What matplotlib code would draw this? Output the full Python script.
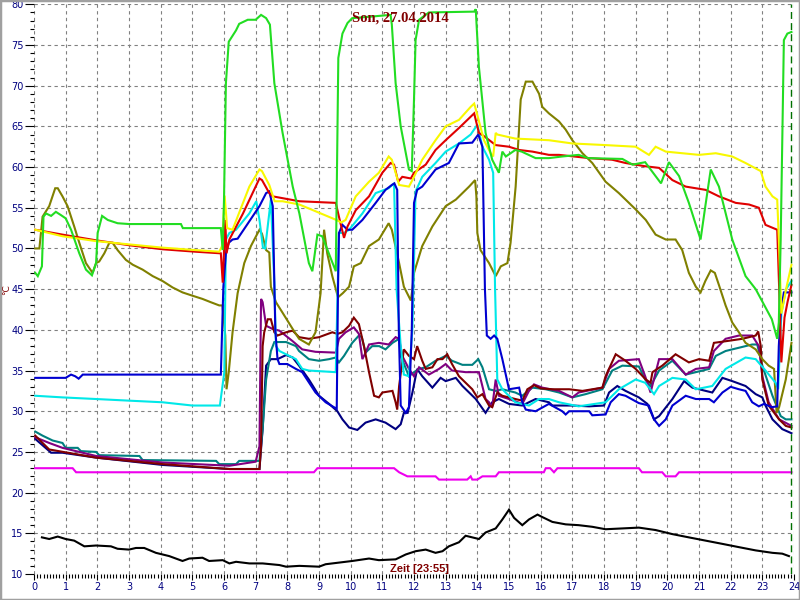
#!/usr/bin/env python3

import matplotlib

matplotlib.use("Agg")
import matplotlib.pyplot as plt
import numpy as np
from matplotlib.patches import Rectangle
from matplotlib.ticker import MultipleLocator

# (hour, degC) readings per sensor
green = [
    (0.04, 47.0), (0.12, 46.6), (0.25, 47.8), (0.3, 53.9), (0.38, 54.3), (0.54, 54.0),
    (0.69, 54.5), (0.85, 54.1), (1.0, 53.7), (1.17, 52.3), (1.43, 49.4), (1.64, 47.4),
    (1.83, 46.7), (1.96, 48.2), (2.01, 51.9), (2.15, 54.0), (2.33, 53.5), (2.64, 53.1),
    (3.0, 53.0), (4.64, 53.0), (4.7, 52.5), (5.9, 52.5), (5.96, 49.8), (6.0, 56.0),
    (6.06, 70.3), (6.15, 75.4), (6.38, 76.8), (6.48, 77.6), (6.75, 78.1), (7.0, 78.1),
    (7.17, 78.7), (7.33, 78.3), (7.45, 77.5), (7.59, 70.3), (7.85, 64.2), (8.17, 57.6),
    (8.38, 54.3), (8.68, 48.2), (8.79, 47.2), (8.95, 51.7), (9.1, 51.5), (9.53, 47.2),
    (9.61, 73.4), (9.74, 76.4), (9.9, 77.7), (10.05, 78.3), (10.68, 78.5), (11.26, 78.7),
    (11.3, 77.5), (11.42, 70.3), (11.58, 65.0), (11.84, 59.7), (11.93, 59.5), (12.0, 68.3),
    (12.05, 75.6), (12.16, 78.1), (12.47, 79.0), (13.9, 79.1), (13.95, 79.4), (13.98, 77.2),
    (14.05, 72.3), (14.26, 64.2), (14.47, 60.9), (14.68, 59.3), (14.79, 61.9), (14.9, 61.3),
    (15.05, 61.7), (15.2, 62.1), (15.4, 61.9), (15.84, 61.1), (16.26, 61.1), (16.68, 61.3),
    (17.2, 61.5), (17.5, 61.1), (18.58, 61.0), (18.9, 60.3), (19.3, 60.6), (19.8, 58.0),
    (20.05, 60.6), (20.37, 58.9), (20.68, 55.6), (21.05, 51.1), (21.2, 55.2), (21.37, 59.7),
    (21.63, 57.6), (22.05, 51.1), (22.47, 46.6), (22.79, 45.0), (23.3, 41.3), (23.47, 38.9),
    (23.52, 40.9), (23.58, 51.1), (23.63, 63.3), (23.68, 75.6), (23.79, 76.4), (23.92, 76.6),
]
yellow = [
    (0.04, 52.3), (0.9, 51.5), (1.96, 50.9), (3.0, 50.5), (4.06, 50.1), (5.1, 49.8),
    (5.85, 49.6), (5.94, 50.3), (6.02, 56.5), (6.1, 52.5), (6.27, 52.3), (6.8, 57.6),
    (7.12, 59.7), (7.2, 59.5), (7.43, 57.8), (7.6, 55.8), (7.85, 55.8), (8.38, 55.4),
    (9.55, 53.5), (9.7, 53.2), (9.84, 53.5), (10.16, 56.4), (10.58, 58.2), (10.89, 59.3),
    (11.2, 61.3), (11.3, 60.9), (11.42, 59.3), (11.53, 57.8), (11.84, 57.6), (11.95, 58.4),
    (12.26, 60.9), (12.68, 63.3), (13.0, 65.0), (13.42, 65.8), (13.79, 67.4), (13.9, 67.8),
    (14.0, 66.4), (14.21, 63.3), (14.42, 61.7), (14.5, 61.3), (14.58, 64.2), (14.63, 64.0),
    (15.2, 63.5), (16.26, 63.3), (17.0, 62.9), (18.05, 62.7), (19.0, 62.5), (19.42, 61.5),
    (19.63, 62.5), (19.95, 61.9), (21.0, 61.5), (21.53, 61.7), (22.05, 61.3), (22.47, 60.5),
    (22.95, 59.5), (23.1, 57.6), (23.32, 56.4), (23.47, 56.0), (23.53, 50.3), (23.6, 42.0),
    (23.75, 45.0), (23.92, 48.0),
]
red = [
    (0.04, 52.3), (0.9, 51.7), (1.96, 51.0), (3.0, 50.4), (4.06, 49.9), (5.1, 49.6),
    (5.9, 49.4), (5.96, 45.8), (6.04, 53.5), (6.08, 49.4), (6.17, 51.1), (6.6, 54.3),
    (7.12, 58.6), (7.2, 58.4), (7.43, 56.8), (7.54, 56.4), (8.38, 55.8), (9.53, 55.6),
    (9.63, 53.9), (9.79, 51.3), (9.9, 52.7), (10.16, 54.7), (10.58, 56.4), (11.0, 59.3),
    (11.26, 60.5), (11.37, 60.3), (11.5, 58.2), (11.63, 58.8), (11.9, 58.6), (12.0, 59.3),
    (12.37, 60.3), (12.68, 62.1), (13.0, 63.3), (13.42, 64.8), (13.74, 66.0), (13.9, 66.6),
    (14.05, 64.2), (14.21, 63.8), (14.58, 62.7), (15.0, 62.5), (15.32, 62.1), (15.74, 61.9),
    (16.26, 61.5), (16.58, 61.5), (17.53, 61.1), (18.26, 60.9), (18.68, 60.5), (19.3, 60.1),
    (19.74, 59.9), (20.16, 58.4), (20.58, 57.6), (21.21, 57.2), (21.63, 56.4), (22.16, 55.6),
    (22.58, 55.4), (22.89, 55.0), (23.1, 52.9), (23.47, 52.3), (23.53, 45.3), (23.6, 36.0),
    (23.7, 41.5), (23.8, 43.5), (23.92, 45.5),
]
cyan = [
    (0.04, 31.9), (0.9, 31.7), (1.96, 31.5), (3.0, 31.3), (4.06, 31.1), (5.0, 30.7),
    (5.87, 30.7), (6.01, 34.8), (6.06, 51.1), (6.17, 51.9), (6.38, 52.3), (6.8, 54.3),
    (7.02, 55.8), (7.12, 53.5), (7.23, 50.1), (7.3, 50.0), (7.38, 52.7), (7.48, 56.0),
    (7.59, 45.8), (7.64, 38.0), (7.75, 37.4), (8.27, 36.4), (8.47, 35.2), (8.68, 35.0),
    (9.53, 34.8), (9.63, 51.9), (9.79, 51.9), (9.95, 52.3), (10.37, 54.3), (10.79, 56.8),
    (11.2, 57.4), (11.37, 58.0), (11.45, 45.0), (11.58, 38.0), (11.68, 34.5), (11.84, 34.3),
    (11.95, 40.1), (12.05, 57.0), (12.26, 58.8), (12.68, 60.5), (13.0, 61.9), (13.42, 62.9),
    (13.79, 64.0), (14.0, 65.2), (14.16, 62.5), (14.37, 60.9), (14.5, 59.3), (14.56, 45.0),
    (14.63, 33.9), (14.79, 32.7), (15.2, 31.1), (15.63, 30.7), (15.95, 31.5), (16.26, 31.5),
    (16.58, 31.1), (17.2, 30.6), (18.05, 31.1), (18.47, 32.7), (19.0, 33.9), (19.3, 33.5),
    (19.58, 32.1), (19.74, 33.1), (20.16, 34.1), (20.58, 33.9), (20.9, 32.7), (21.42, 33.1),
    (21.84, 35.2), (22.47, 36.6), (22.79, 36.4), (23.1, 35.0), (23.42, 33.5), (23.5, 32.7),
    (23.6, 42.0), (23.75, 45.0), (23.92, 46.0),
]
blue = [
    (0.04, 34.1), (1.0, 34.1), (1.17, 34.5), (1.3, 34.3), (1.41, 34.0), (1.54, 34.5),
    (5.9, 34.5), (5.98, 45.3), (6.06, 49.4), (6.15, 50.7), (6.27, 51.1), (6.43, 51.2),
    (6.69, 52.7), (7.12, 55.2), (7.33, 56.8), (7.43, 57.0), (7.54, 55.2), (7.62, 40.0),
    (7.69, 36.4), (7.75, 35.8), (8.0, 35.8), (8.27, 35.2), (8.47, 34.8), (8.89, 32.3),
    (9.21, 31.1), (9.47, 30.5), (9.56, 30.3), (9.6, 45.0), (9.63, 51.9), (9.74, 52.9),
    (9.9, 52.3), (10.05, 52.3), (10.37, 53.5), (10.79, 55.6), (11.1, 57.2), (11.3, 57.8),
    (11.38, 58.0), (11.47, 57.2), (11.52, 40.0), (11.58, 30.7), (11.74, 29.8), (11.84, 30.5),
    (11.93, 40.0), (12.0, 55.6), (12.1, 57.2), (12.26, 57.6), (12.68, 59.7), (13.1, 60.5),
    (13.42, 62.9), (13.84, 63.0), (14.03, 64.0), (14.16, 62.5), (14.24, 45.0), (14.3, 39.3),
    (14.42, 38.9), (14.53, 39.3), (14.63, 38.9), (14.79, 36.4), (15.0, 32.7), (15.32, 32.9),
    (15.42, 31.1), (15.53, 30.2), (15.84, 30.0), (16.26, 30.9), (16.68, 30.0), (16.79, 29.6),
    (16.9, 30.0), (17.53, 30.0), (17.63, 29.5), (18.05, 29.6), (18.21, 31.1), (18.47, 32.1),
    (18.68, 31.9), (19.1, 31.0), (19.42, 30.7), (19.58, 29.0), (19.74, 28.2), (19.95, 29.0),
    (20.16, 30.7), (20.58, 31.9), (20.9, 31.5), (21.32, 31.5), (21.47, 31.1), (21.74, 32.3),
    (22.0, 33.0), (22.26, 32.7), (22.47, 32.5), (22.68, 31.1), (22.89, 30.6), (23.05, 30.9),
    (23.3, 30.5), (23.47, 30.6), (23.52, 38.0), (23.58, 42.1), (23.68, 44.6), (23.92, 44.6),
]
olive = [
    (0.04, 50.0), (0.17, 50.0), (0.27, 53.9), (0.48, 55.2), (0.67, 57.4), (0.75, 57.4),
    (0.9, 56.4), (1.06, 55.2), (1.27, 52.7), (1.43, 50.7), (1.64, 48.2), (1.85, 47.0),
    (1.96, 48.2), (2.06, 48.4), (2.22, 49.4), (2.38, 50.7), (2.48, 50.7), (2.64, 49.8),
    (2.9, 48.6), (3.12, 48.0), (3.43, 47.4), (3.75, 46.6), (4.06, 46.0), (4.38, 45.2),
    (4.69, 44.6), (5.0, 44.2), (5.32, 43.8), (5.58, 43.4), (5.85, 43.0), (5.95, 43.0),
    (6.04, 39.3), (6.08, 32.7), (6.15, 34.8), (6.27, 39.7), (6.43, 44.5), (6.64, 48.2),
    (6.85, 50.3), (7.12, 52.3), (7.2, 51.8), (7.33, 49.8), (7.43, 49.5), (7.48, 45.3),
    (7.64, 43.4), (7.85, 42.1), (8.17, 40.1), (8.37, 38.9), (8.68, 38.2), (8.89, 39.7),
    (9.05, 44.5), (9.16, 52.3), (9.26, 49.4), (9.42, 46.6), (9.6, 44.0), (9.75, 44.5),
    (9.95, 45.3), (10.1, 47.8), (10.32, 48.2), (10.58, 50.3), (10.89, 51.1), (11.2, 53.1),
    (11.3, 52.3), (11.53, 48.2), (11.68, 45.3), (11.9, 43.6), (11.95, 45.0), (12.0, 47.0),
    (12.26, 50.3), (12.58, 52.7), (13.0, 55.2), (13.32, 56.0), (13.74, 57.6), (13.93, 58.4),
    (13.97, 56.4), (14.0, 51.9), (14.1, 49.8), (14.37, 48.2), (14.58, 46.6), (14.74, 47.8),
    (14.95, 48.2), (15.05, 50.7), (15.21, 57.6), (15.37, 68.3), (15.53, 70.5), (15.74, 70.5),
    (15.95, 69.0), (16.05, 67.4), (16.26, 66.6), (16.58, 65.6), (16.79, 64.6), (17.0, 63.3),
    (17.32, 61.7), (17.63, 60.5), (18.05, 58.2), (18.47, 56.8), (19.0, 54.8), (19.32, 53.5),
    (19.63, 51.7), (19.95, 51.1), (20.26, 51.1), (20.47, 49.8), (20.68, 47.0), (20.9, 45.3),
    (21.05, 44.6), (21.2, 46.0), (21.37, 47.3), (21.5, 47.0), (21.63, 45.5), (21.84, 43.0),
    (22.05, 40.9), (22.26, 39.7), (22.47, 38.4), (22.79, 37.6), (23.0, 36.4), (23.2, 35.6),
    (23.37, 35.2), (23.45, 29.8), (23.53, 30.5), (23.74, 33.9), (23.92, 38.4),
]
maroon = [
    (0.04, 27.0), (0.48, 25.3), (1.96, 24.3), (4.06, 23.5), (6.17, 22.9), (7.12, 22.9),
    (7.17, 25.7), (7.22, 38.0), (7.27, 39.7), (7.38, 41.3), (7.48, 41.3), (7.59, 39.7),
    (7.69, 39.3), (7.96, 39.7), (8.17, 39.9), (8.37, 39.1), (8.68, 38.9), (9.0, 39.1),
    (9.42, 39.7), (9.58, 39.5), (9.74, 39.7), (9.95, 40.5), (10.1, 41.5), (10.26, 40.7),
    (10.42, 38.0), (10.58, 34.8), (10.74, 31.9), (10.89, 31.7), (11.0, 32.3), (11.32, 32.5),
    (11.42, 31.1), (11.47, 30.2), (11.53, 33.1), (11.68, 37.6), (11.84, 36.8), (12.0, 36.4),
    (12.1, 38.0), (12.26, 36.2), (12.37, 35.2), (12.58, 35.4), (12.74, 36.4), (12.9, 36.4),
    (13.05, 37.0), (13.2, 35.8), (13.42, 34.3), (13.63, 33.5), (13.84, 32.7), (14.0, 31.7),
    (14.16, 32.1), (14.37, 30.7), (14.47, 30.5), (14.63, 32.3), (14.79, 31.9), (15.2, 31.5),
    (15.42, 31.3), (15.58, 32.7), (15.79, 33.2), (16.0, 32.8), (16.37, 32.7), (16.9, 32.7),
    (17.32, 32.5), (17.95, 32.9), (18.05, 34.3), (18.37, 37.0), (18.68, 36.2), (19.0, 35.2),
    (19.32, 33.9), (19.47, 33.5), (19.53, 34.8), (19.84, 35.6), (20.26, 37.0), (20.68, 36.0),
    (21.0, 36.4), (21.32, 36.2), (21.47, 38.4), (21.84, 38.6), (22.37, 38.9), (22.79, 39.3),
    (22.87, 39.8), (22.95, 38.0), (23.0, 33.9), (23.2, 30.7), (23.53, 29.0), (23.74, 28.2),
    (23.92, 28.0),
]
purple = [
    (0.04, 26.8), (0.48, 26.1), (0.9, 25.5), (1.96, 24.5), (4.06, 23.7), (6.17, 23.3),
    (7.0, 23.8), (7.12, 25.7), (7.17, 43.8), (7.22, 43.4), (7.33, 40.5), (7.54, 40.1),
    (7.75, 39.9), (8.17, 38.6), (8.47, 37.6), (8.89, 37.3), (9.53, 37.2), (9.63, 38.9),
    (9.84, 39.7), (10.1, 40.3), (10.26, 39.5), (10.37, 36.4), (10.47, 37.2), (10.58, 38.2),
    (10.89, 38.4), (11.2, 38.2), (11.42, 39.1), (11.53, 38.9), (11.63, 36.8), (11.84, 35.2),
    (12.0, 34.3), (12.16, 35.4), (12.47, 34.5), (12.79, 35.2), (13.0, 35.8), (13.2, 35.0),
    (13.63, 34.8), (14.05, 34.8), (14.26, 31.5), (14.37, 31.1), (14.47, 30.5), (14.58, 33.9),
    (14.68, 31.9), (15.0, 31.5), (15.42, 30.9), (15.63, 32.5), (15.79, 33.3), (16.05, 32.9),
    (16.58, 32.5), (17.0, 31.7), (17.2, 32.3), (17.95, 32.9), (18.16, 35.2), (18.47, 36.2),
    (19.1, 36.4), (19.3, 34.3), (19.47, 32.3), (19.74, 36.4), (20.16, 36.4), (20.58, 34.5),
    (20.9, 35.2), (21.32, 35.4), (21.47, 37.4), (21.84, 38.9), (22.26, 39.3), (22.68, 39.3),
    (22.89, 38.0), (23.0, 34.3), (23.2, 31.1), (23.53, 29.0), (23.92, 28.2),
]
teal = [
    (0.04, 27.5), (0.27, 27.0), (0.59, 26.4), (0.9, 26.1), (1.0, 25.5), (1.38, 25.5),
    (1.48, 25.1), (1.96, 25.0), (2.06, 24.6), (3.33, 24.5), (3.43, 24.0), (5.75, 23.9),
    (5.85, 23.5), (6.38, 23.5), (6.48, 23.9), (7.12, 23.9), (7.22, 27.8), (7.33, 33.9),
    (7.48, 37.4), (7.59, 38.5), (7.96, 38.5), (8.27, 38.0), (8.37, 37.4), (8.68, 36.4),
    (9.0, 36.2), (9.32, 36.4), (9.53, 36.6), (9.63, 36.0), (9.79, 36.8), (10.05, 38.4),
    (10.26, 39.3), (10.35, 39.1), (10.47, 37.2), (10.68, 38.0), (10.9, 38.0), (11.1, 37.6),
    (11.32, 38.4), (11.53, 38.9), (11.58, 36.8), (11.84, 34.3), (12.0, 34.8), (12.16, 35.2),
    (12.37, 35.4), (12.68, 36.2), (13.0, 36.8), (13.2, 36.2), (13.53, 35.7), (13.84, 35.7),
    (14.03, 36.4), (14.16, 35.4), (14.37, 32.7), (14.58, 32.5), (14.79, 32.7), (15.2, 32.3),
    (15.42, 31.9), (15.74, 32.9), (16.16, 32.7), (16.58, 32.3), (17.0, 31.7), (17.42, 32.1),
    (17.95, 32.7), (18.26, 35.0), (18.58, 35.6), (19.1, 35.5), (19.3, 33.9), (19.47, 33.1),
    (19.74, 35.0), (20.16, 36.2), (20.58, 34.5), (20.9, 34.8), (21.32, 35.2), (21.53, 36.8),
    (21.84, 37.4), (22.26, 37.8), (22.68, 38.2), (22.84, 38.2), (23.0, 35.6), (23.32, 31.9),
    (23.58, 29.4), (23.74, 29.0), (23.92, 29.0),
]
navy = [
    (0.04, 26.6), (0.54, 24.9), (0.9, 24.9), (1.96, 24.3), (4.06, 23.4), (6.17, 22.9),
    (7.12, 22.9), (7.22, 27.8), (7.33, 35.6), (7.48, 36.4), (7.69, 36.4), (7.96, 36.9),
    (8.17, 36.6), (8.37, 35.6), (8.68, 33.9), (9.0, 31.9), (9.32, 30.9), (9.58, 30.0),
    (9.74, 29.0), (9.95, 28.0), (10.21, 27.7), (10.47, 28.6), (10.79, 29.0), (11.1, 28.6),
    (11.42, 27.8), (11.58, 28.4), (11.68, 29.8), (11.8, 29.8), (11.95, 32.3), (12.1, 35.2),
    (12.26, 34.3), (12.58, 32.9), (12.84, 34.1), (13.0, 33.7), (13.32, 34.1), (13.53, 33.1),
    (13.95, 31.5), (14.26, 29.8), (14.47, 31.1), (14.68, 31.5), (15.0, 30.9), (15.42, 30.7),
    (15.84, 31.5), (16.26, 31.1), (16.37, 30.7), (17.0, 30.7), (17.53, 30.6), (18.0, 30.7),
    (18.16, 32.3), (18.42, 33.1), (18.68, 32.5), (19.1, 31.7), (19.37, 30.9), (19.58, 29.0),
    (19.74, 29.4), (20.16, 31.5), (20.53, 33.7), (20.79, 32.9), (21.42, 32.3), (21.74, 34.1),
    (22.05, 33.7), (22.47, 33.1), (22.79, 32.1), (23.0, 31.7), (23.1, 30.7), (23.32, 29.0),
    (23.63, 27.8), (23.92, 27.3),
]
magenta = [
    (0.04, 23.0), (1.22, 23.0), (1.33, 22.5), (8.84, 22.5), (8.95, 23.0), (11.37, 23.0),
    (11.53, 22.5), (11.79, 22.0), (12.68, 22.0), (12.79, 21.6), (13.68, 21.6), (13.79, 22.0),
    (13.84, 21.6), (14.0, 21.6), (14.16, 22.0), (14.58, 22.0), (14.68, 22.5), (16.1, 22.5),
    (16.16, 23.0), (16.3, 23.0), (16.42, 22.5), (16.53, 23.0), (19.1, 23.0), (19.2, 22.5),
    (19.84, 22.5), (19.95, 22.0), (20.26, 22.0), (20.37, 22.5), (23.92, 22.5),
]
black = [
    (0.25, 14.5), (0.48, 14.3), (0.75, 14.6), (1.0, 14.3), (1.27, 14.1), (1.59, 13.4),
    (1.96, 13.5), (2.43, 13.4), (2.64, 13.1), (3.0, 13.0), (3.22, 13.2), (3.48, 13.2),
    (3.85, 12.6), (4.27, 12.2), (4.48, 11.9), (4.69, 11.6), (4.9, 11.9), (5.32, 12.0),
    (5.53, 11.6), (5.96, 11.7), (6.17, 11.3), (6.38, 11.5), (6.8, 11.3), (7.22, 11.3),
    (7.75, 11.1), (7.96, 10.9), (8.38, 11.0), (9.0, 10.9), (9.21, 11.2), (9.63, 11.4),
    (10.05, 11.6), (10.58, 11.9), (10.89, 11.7), (11.42, 11.8), (11.74, 12.4), (12.05, 12.8),
    (12.37, 13.0), (12.68, 12.6), (12.9, 12.8), (13.1, 13.4), (13.42, 13.9), (13.63, 14.7),
    (14.05, 14.3), (14.26, 15.1), (14.58, 15.6), (14.79, 16.7), (15.0, 17.9), (15.16, 16.9),
    (15.42, 16.0), (15.63, 16.7), (15.9, 17.3), (16.05, 17.0), (16.37, 16.4), (16.79, 16.1),
    (17.2, 16.0), (17.63, 15.8), (18.05, 15.5), (18.58, 15.6), (19.1, 15.7), (19.63, 15.4),
    (20.16, 14.9), (20.68, 14.5), (21.21, 14.1), (21.74, 13.7), (22.26, 13.3), (22.79, 12.9),
    (23.32, 12.6), (23.63, 12.5), (23.84, 12.2),
]

series = [
    (black, "#000000"),
    (magenta, "#ee00ee"),
    (navy, "#000080"),
    (teal, "#008080"),
    (purple, "#800080"),
    (maroon, "#800000"),
    (olive, "#808000"),
    (cyan, "#00e8e8"),
    (blue, "#0000d0"),
    (red, "#e00000"),
    (yellow, "#f8f800"),
    (green, "#22dd22"),
]

fig = plt.figure(figsize=(8, 6), dpi=100)
ax = fig.add_axes([34 / 800, 26 / 600, 760 / 800, 569.7 / 600])

for pts, color in series:
    arr = np.array(pts)
    ax.plot(arr[:, 0], arr[:, 1], color=color, lw=1.5, solid_joinstyle="miter")

# current time marker
ax.axvline(23.92, color="#007000", lw=1, ls=(0, (5, 3)))

ax.set_xlim(0, 24)
ax.set_ylim(10, 80)
ax.xaxis.set_major_locator(MultipleLocator(1))
ax.xaxis.set_minor_locator(MultipleLocator(0.1))
ax.yaxis.set_major_locator(MultipleLocator(5))
ax.yaxis.set_minor_locator(MultipleLocator(1))
ax.grid(True, which="major", color="#808080", ls=(0, (3, 3)), lw=0.8)
ax.set_axisbelow(True)
for s in ax.spines.values():
    s.set_visible(False)
ax.tick_params(which="both", colors="#000000", labelcolor="#000080", labelsize=7, width=0.8)
ax.tick_params(axis="y", which="major", length=6.5, pad=1)
ax.tick_params(axis="y", which="minor", length=3)
ax.tick_params(axis="x", which="major", length=4.5, pad=1.5)
ax.tick_params(axis="x", which="minor", length=3)

fig.text(0.5, 1 - 18 / 600, "Son, 27.04.2014", ha="center", va="center",
         family="Liberation Serif", weight="bold", size=10.5, color="#800000")
fig.text(419 / 800, 1 - 569 / 600, "Zeit [23:55]", ha="center", va="center",
         family="Liberation Sans", weight="bold", size=8, color="#800000")
fig.text(7 / 800, 1 - 290 / 600, "°C", ha="center", va="center", rotation=90,
         size=6.5, color="#800000")

fig.patches.append(Rectangle((0, 0), 1, 1, transform=fig.transFigure, fill=False,
                             edgecolor="#a0a0a0", lw=2.5))

plt.savefig("out.png", dpi=100)
